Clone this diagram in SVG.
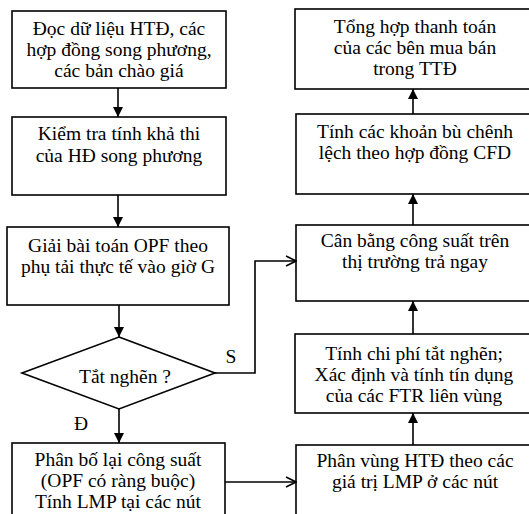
<svg xmlns="http://www.w3.org/2000/svg" width="529" height="514" viewBox="0 0 529 514">
<style>
.b{fill:#fff;stroke:#000;stroke-width:1.6}
.t{font-family:"Liberation Serif","Times New Roman",serif;font-size:19.5px;fill:#000;text-anchor:middle}
.c{fill:none;stroke:#000;stroke-width:1.6}
</style>
<defs>
<marker id="f" viewBox="0 0 10 10" refX="10" refY="5" markerWidth="10" markerHeight="10" markerUnits="userSpaceOnUse" orient="auto"><path d="M0,0L10,5L0,10z" fill="#000"/></marker>
<marker id="o" viewBox="0 0 12 12" refX="11" refY="6" markerWidth="12" markerHeight="12" markerUnits="userSpaceOnUse" orient="auto"><path d="M1,1L11,6L1,11" fill="none" stroke="#000" stroke-width="1.6"/></marker>
</defs>
<rect width="529" height="514" fill="#fff"/>
<g id="n1"><rect class="b" x="12" y="11" width="214" height="77"/>
<text class="t" x="119" y="35">Đọc dữ liệu HTĐ, các</text>
<text class="t" x="119" y="56">hợp đồng song phương,</text>
<text class="t" x="119" y="77">các bản chào giá</text></g>
<g id="n2"><rect class="b" x="12" y="117" width="214" height="78"/>
<text class="t" x="119" y="140">Kiểm tra tính khả thi</text>
<text class="t" x="119" y="162">của HĐ song phương</text></g>
<g id="n3"><rect class="b" x="7" y="227" width="222" height="78"/>
<text class="t" x="118" y="252">Giải bài toán OPF theo</text>
<text class="t" x="118" y="273">phụ tải thực tế vào giờ G</text></g>
<g id="n4"><polygon class="b" points="119,337 215,373 119,409 22,373"/>
<text class="t" x="125" y="383">Tắt nghẽn ?</text></g>
<g id="n5"><rect class="b" x="12" y="443" width="213" height="80"/>
<text class="t" x="118" y="466">Phân bố lại công suất</text>
<text class="t" x="118" y="487">(OPF có ràng buộc)</text>
<text class="t" x="118" y="508">Tính LMP tại các nút</text></g>
<g id="n6"><rect class="b" x="296" y="445" width="240" height="80"/>
<text class="t" x="415" y="467">Phân vùng HTĐ theo các</text>
<text class="t" x="415" y="488">giá trị LMP ở các nút</text></g>
<g id="n7"><rect class="b" x="295" y="334" width="240" height="79"/>
<text class="t" x="414" y="360">Tính chi phí tắt nghẽn;</text>
<text class="t" x="414" y="381">Xác định và tính tín dụng</text>
<text class="t" x="414" y="402">của các FTR liên vùng</text></g>
<g id="n8"><rect class="b" x="296" y="225" width="240" height="76"/>
<text class="t" x="415" y="247">Cân bằng công suất trên</text>
<text class="t" x="415" y="268">thị trường trả ngay</text></g>
<g id="n9"><rect class="b" x="296" y="114" width="240" height="80"/>
<text class="t" x="415" y="138">Tính các khoản bù chênh</text>
<text class="t" x="415" y="159">lệch theo hợp đồng CFD</text></g>
<g id="n10"><rect class="b" x="295" y="9" width="240" height="80"/>
<text class="t" x="415" y="33">Tổng hợp thanh toán</text>
<text class="t" x="415" y="54">của các bên mua bán</text>
<text class="t" x="415" y="75">trong TTĐ</text></g>
<g id="edges">
<line class="c" x1="118" y1="88" x2="118" y2="117" marker-end="url(#f)"/>
<line class="c" x1="118" y1="195" x2="118" y2="227" marker-end="url(#f)"/>
<line class="c" x1="119" y1="305" x2="119" y2="337" marker-end="url(#f)"/>
<line class="c" x1="119" y1="409" x2="119" y2="443" marker-end="url(#f)"/>
<polyline class="c" points="215,373 255,373 255,261 296,261" marker-end="url(#o)"/>
<line class="c" x1="225" y1="482" x2="296" y2="482" marker-end="url(#o)"/>
<line class="c" x1="413" y1="445" x2="413" y2="413" marker-end="url(#f)"/>
<line class="c" x1="413" y1="334" x2="413" y2="301" marker-end="url(#f)"/>
<line class="c" x1="413" y1="225" x2="413" y2="194" marker-end="url(#f)"/>
<line class="c" x1="413" y1="114" x2="413" y2="89" marker-end="url(#f)"/>
<text class="t" x="231" y="363">S</text>
<text class="t" x="81" y="430">Đ</text>
</g>
</svg>
